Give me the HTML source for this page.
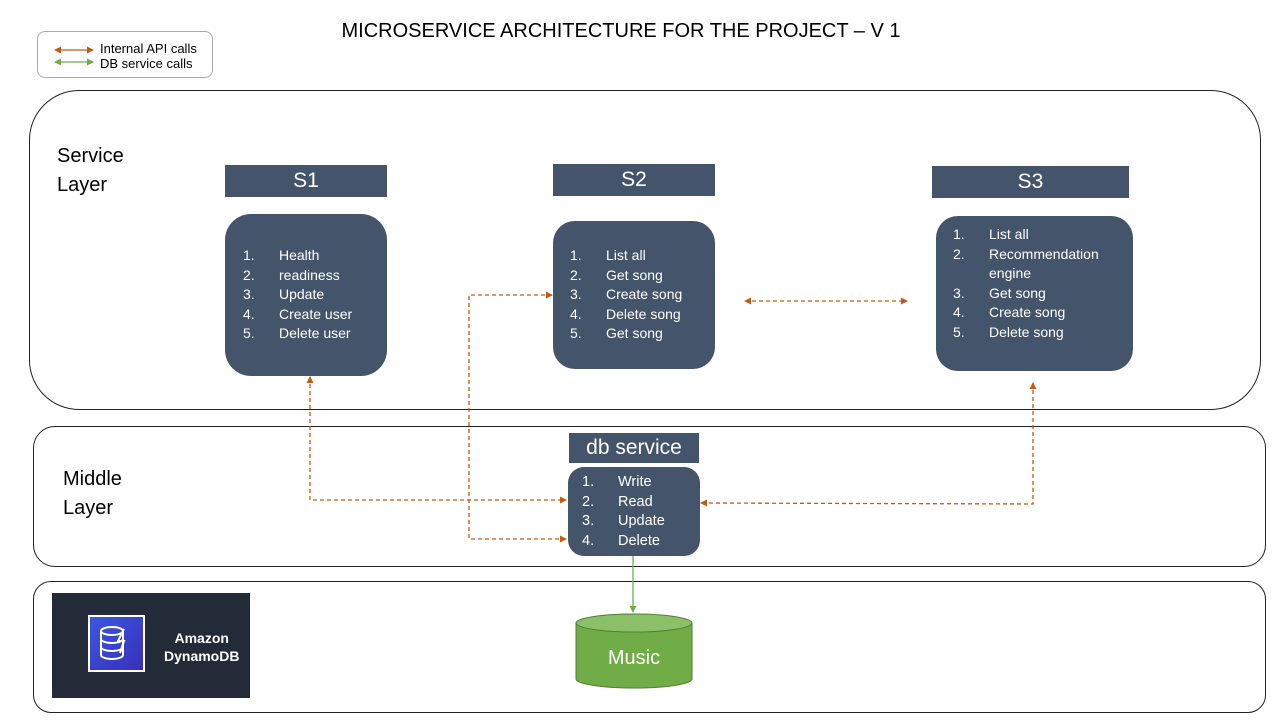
<!DOCTYPE html>
<html><head><meta charset="utf-8"><style>
body{margin:0;width:1280px;height:720px;background:#fff;position:relative;overflow:hidden;font-family:"Liberation Sans",sans-serif;}
.a{position:absolute;box-sizing:border-box;}
.hd{background:#44546A;color:#fff;text-align:center;font-size:21px;}
.bx{background:#44546A;color:#fff;font-size:14px;line-height:19.5px;}
.bx div{position:relative;padding-left:36px;}
.bx div span{position:absolute;left:0;}
.lay{border:1px solid #222;}
</style></head><body>
<div class="a" style="left:0;top:20px;width:1242px;text-align:center;font-size:20px;color:#000;">MICROSERVICE ARCHITECTURE FOR THE PROJECT – V 1</div>
<div class="a" style="left:37px;top:31px;width:176px;height:47px;border:1px solid #aaa;border-radius:8px;"></div>
<div class="a" style="left:100px;top:41px;font-size:13px;line-height:15px;">Internal API calls<br>DB service calls</div>
<div class="a lay" style="left:29px;top:90px;width:1232px;height:320px;border-radius:50px;"></div>
<div class="a lay" style="left:33px;top:426px;width:1233px;height:141px;border-radius:22px;"></div>
<div class="a lay" style="left:33px;top:581px;width:1233px;height:132px;border-radius:18px;"></div>
<div class="a" style="left:57px;top:142px;font-size:20px;line-height:29px;">Service<br>Layer</div>
<div class="a" style="left:63px;top:465px;font-size:20px;line-height:29px;">Middle<br>Layer</div>
<div class="a hd" style="left:225px;top:165px;width:162px;height:32px;line-height:32px;">S1</div>
<div class="a hd" style="left:553px;top:164px;width:162px;height:32px;line-height:32px;">S2</div>
<div class="a hd" style="left:932px;top:166px;width:197px;height:32px;line-height:32px;">S3</div>
<div class="a hd" style="left:569px;top:433px;width:130px;height:30px;line-height:30px;font-size:21px;">db service</div>
<div class="a bx" style="left:225px;top:214px;width:162px;height:162px;border-radius:26px;padding:32px 0 0 18px;">
<div><span>1.</span>Health</div><div><span>2.</span>readiness</div><div><span>3.</span>Update</div><div><span>4.</span>Create user</div><div><span>5.</span>Delete user</div></div>
<div class="a bx" style="left:553px;top:221px;width:162px;height:148px;border-radius:22px;padding:25px 0 0 17px;">
<div><span>1.</span>List all</div><div><span>2.</span>Get song</div><div><span>3.</span>Create song</div><div><span>4.</span>Delete song</div><div><span>5.</span>Get song</div></div>
<div class="a bx" style="left:936px;top:216px;width:197px;height:155px;border-radius:22px;padding:9px 0 0 17px;">
<div><span>1.</span>List all</div><div><span>2.</span>Recommendation<br>engine</div><div><span>3.</span>Get song</div><div><span>4.</span>Create song</div><div><span>5.</span>Delete song</div></div>
<div class="a bx" style="left:568px;top:467px;width:132px;height:89px;border-radius:16px;padding:6px 0 0 14px;font-size:14.5px;">
<div><span>1.</span>Write</div><div><span>2.</span>Read</div><div><span>3.</span>Update</div><div><span>4.</span>Delete</div></div>
<div class="a" style="left:52px;top:593px;width:198px;height:105px;background:#232a38;">
<div class="a" style="left:36px;top:22px;width:57px;height:57px;background:linear-gradient(135deg,#3a58e0,#3a2fb8);border:2px solid #fff;">
<svg width="53" height="53"><g fill="none" stroke="#fff" stroke-width="2"><ellipse cx="22" cy="14" rx="11" ry="4"/><path d="M11,14v24a11,4 0 0 0 22,0v-24M11,22a11,4 0 0 0 22,0M11,30a11,4 0 0 0 22,0"/><path d="M34,12l-6,12h6l-4,12"/></g></svg></div>
<div class="a" style="left:112px;top:36px;color:#fff;font-size:14px;font-weight:bold;line-height:18px;text-align:center;">Amazon<br>DynamoDB</div></div>
<svg class="a" style="left:0;top:0" width="1280" height="720">
<defs>
<marker id="o" markerWidth="7" markerHeight="7" refX="6" refY="3.5" orient="auto-start-reverse" markerUnits="userSpaceOnUse"><path d="M0,0L7,3.5L0,7z" fill="#C55A11"/></marker>
<marker id="g" markerWidth="7" markerHeight="7" refX="6" refY="3.5" orient="auto-start-reverse" markerUnits="userSpaceOnUse"><path d="M0,0L7,3.5L0,7z" fill="#70AD47"/></marker>
</defs>
<g stroke="#C55A11" stroke-width="1.3" fill="none" stroke-dasharray="4,3">
<line x1="55" y1="50" x2="93" y2="50" stroke-dasharray="none" marker-start="url(#o)" marker-end="url(#o)"/>
<polyline points="310,377 310,500 566,500" marker-start="url(#o)" marker-end="url(#o)"/>
<polyline points="552,295 469,295 469,539 566,539" marker-start="url(#o)" marker-end="url(#o)"/>
<polyline points="1033,383 1033,504 701,503" marker-start="url(#o)" marker-end="url(#o)"/>
<line x1="745" y1="301" x2="907" y2="301" marker-start="url(#o)" marker-end="url(#o)"/>
</g>
<line x1="55" y1="62" x2="93" y2="62" stroke="#70AD47" stroke-width="1.3" marker-start="url(#g)" marker-end="url(#g)"/>
<line x1="633" y1="556" x2="633" y2="612" stroke="#70AD47" stroke-width="1.3" marker-end="url(#g)"/>
<path d="M576,623 L576,679 A58,9 0 0 0 692,679 L692,623 Z" fill="#70AD47" stroke="#507E32"/>
<ellipse cx="634" cy="623" rx="58" ry="9" fill="#8CC068" stroke="#507E32"/>
<text x="634" y="664" text-anchor="middle" fill="#fff" font-size="20" font-family="Liberation Sans">Music</text>
</svg>
</body></html>
